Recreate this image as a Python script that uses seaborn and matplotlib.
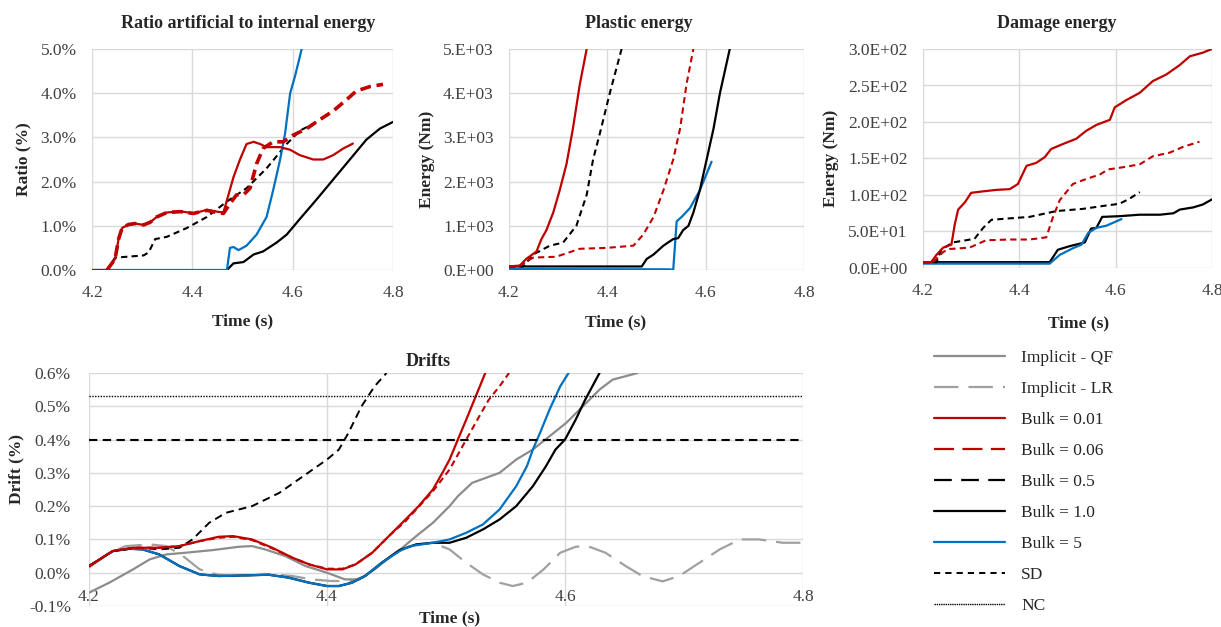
import matplotlib
matplotlib.use("Agg")
import matplotlib.pyplot as plt
import numpy as np
import pandas as pd
import seaborn as sns
from matplotlib.lines import Line2D
from matplotlib.ticker import FixedLocator, FixedFormatter

# ---------------- data ----------------
# Ratio artificial to internal energy (%)
ratio_t_b001 = [4.20, 4.23, 4.246, 4.253, 4.26, 4.273, 4.286, 4.303, 4.316, 4.329, 4.349, 4.376, 4.402,
                4.429, 4.449, 4.462, 4.472, 4.482, 4.495, 4.508, 4.522, 4.535, 4.548, 4.575, 4.595,
                4.614, 4.641, 4.661, 4.681, 4.701, 4.72]
ratio_b001 = [0.0, 0.0, 0.25, 0.7, 0.95, 1.03, 1.05, 1.02, 1.08, 1.2, 1.3, 1.33, 1.28,
              1.36, 1.32, 1.3, 1.7, 2.1, 2.5, 2.85, 2.9, 2.85, 2.78, 2.78, 2.72,
              2.6, 2.5, 2.5, 2.6, 2.75, 2.86]
ratio_t_b006 = [4.23, 4.246, 4.253, 4.26, 4.273, 4.286, 4.303, 4.316, 4.329, 4.349, 4.376, 4.402,
                4.429, 4.449, 4.462, 4.475, 4.488, 4.502, 4.515, 4.528, 4.541, 4.561, 4.581,
                4.601, 4.628, 4.654, 4.681, 4.707, 4.727, 4.754, 4.78]
ratio_b006 = [0.0, 0.25, 0.7, 0.95, 1.03, 1.05, 1.02, 1.08, 1.2, 1.3, 1.32, 1.28,
              1.35, 1.3, 1.28, 1.5, 1.7, 1.7, 1.85, 2.4, 2.75, 2.9, 2.9,
              3.05, 3.2, 3.4, 3.6, 3.85, 4.05, 4.15, 4.2]
ratio_t_b05 = [4.23, 4.246, 4.27, 4.303, 4.313, 4.326, 4.349, 4.389, 4.429, 4.469, 4.508, 4.548,
               4.588, 4.614, 4.648]
ratio_b05 = [0.0, 0.28, 0.3, 0.33, 0.4, 0.7, 0.75, 0.95, 1.2, 1.55, 1.85, 2.3,
             2.85, 3.15, 3.35]
ratio_t_b1 = [4.469, 4.482, 4.502, 4.522, 4.541, 4.568, 4.588, 4.614, 4.648, 4.681, 4.714, 4.747,
              4.774, 4.80]
ratio_b1 = [0.0, 0.15, 0.18, 0.35, 0.42, 0.62, 0.8, 1.15, 1.6, 2.05, 2.5, 2.95, 3.2, 3.35]
ratio_t_b5 = [4.20, 4.469, 4.475, 4.482, 4.492, 4.508, 4.528, 4.548, 4.561, 4.575, 4.585, 4.595,
              4.605, 4.618]
ratio_b5 = [0.0, 0.0, 0.5, 0.52, 0.45, 0.55, 0.8, 1.2, 1.8, 2.5, 3.1, 4.0, 4.4, 5.0]

# Plastic energy (Nm)
plastic_t_b001 = [4.20, 4.222, 4.235, 4.256, 4.266, 4.276, 4.29, 4.303, 4.317, 4.33, 4.344, 4.358]
plastic_b001 = [80, 100, 250, 420, 700, 900, 1300, 1800, 2400, 3200, 4200, 5000]
plastic_t_b05 = [4.20, 4.229, 4.249, 4.283, 4.31, 4.337, 4.358, 4.371, 4.385, 4.405, 4.429]
plastic_b05 = [80, 80, 350, 550, 620, 1000, 1700, 2500, 3100, 4000, 5000]
plastic_t_b006 = [4.20, 4.222, 4.249, 4.296, 4.344, 4.398, 4.453, 4.473, 4.494, 4.514, 4.534,
                  4.548, 4.561, 4.575]
plastic_b006 = [80, 100, 280, 300, 480, 500, 550, 800, 1200, 1800, 2500, 3200, 4200, 5000]
plastic_t_b1 = [4.20, 4.47, 4.48, 4.494, 4.514, 4.534, 4.544, 4.554, 4.565, 4.575, 4.588, 4.602,
                4.616, 4.629, 4.649]
plastic_b1 = [80, 80, 250, 350, 550, 700, 720, 900, 1000, 1300, 1800, 2500, 3200, 4000, 5000]
plastic_t_b5 = [4.20, 4.527, 4.534, 4.541, 4.551, 4.568, 4.588, 4.612]
plastic_b5 = [20, 15, 0, 1100, 1200, 1400, 1800, 2450]

# Damage energy (Nm)
damage_t_b001 = [4.20, 4.217, 4.228, 4.242, 4.259, 4.266, 4.273, 4.287, 4.30, 4.325, 4.352, 4.38,
                 4.397, 4.415, 4.435, 4.453, 4.466, 4.491, 4.518, 4.539, 4.56, 4.588, 4.598,
                 4.622, 4.65, 4.677, 4.705, 4.733, 4.754, 4.781, 4.80]
damage_b001 = [8, 8, 18, 28, 32, 60, 80, 90, 103, 105, 107, 108,
               115, 140, 144, 152, 163, 170, 177, 188, 196, 203, 220,
               230, 240, 256, 265, 278, 290, 295, 300]
damage_t_b006 = [4.20, 4.221, 4.242, 4.255, 4.297, 4.331, 4.38, 4.421, 4.456, 4.47, 4.484, 4.511,
                 4.539, 4.567, 4.584, 4.615, 4.65, 4.677, 4.712, 4.74, 4.774]
damage_b006 = [8, 8, 22, 26, 28, 38, 39, 39, 42, 70, 93, 115,
               122, 128, 135, 138, 142, 153, 158, 166, 173]
damage_t_b05 = [4.20, 4.228, 4.238, 4.262, 4.307, 4.325, 4.342, 4.38, 4.421, 4.477, 4.532, 4.574,
                4.608, 4.629, 4.65]
damage_b05 = [8, 8, 25, 35, 40, 55, 66, 68, 70, 78, 81, 85, 88, 95, 104]
damage_t_b1 = [4.20, 4.463, 4.48, 4.505, 4.536, 4.549, 4.56, 4.572, 4.608, 4.65, 4.692, 4.72,
               4.733, 4.761, 4.781, 4.80]
damage_b1 = [8, 8, 25, 30, 35, 54, 55, 70, 71, 73, 73, 75, 80, 83, 87, 94]
damage_t_b5 = [4.20, 4.463, 4.484, 4.511, 4.529, 4.543, 4.56, 4.581, 4.612]
damage_b5 = [6, 6, 18, 27, 32, 48, 55, 58, 67]

# Drifts (%)
drift_t_qf = [4.20, 4.217, 4.237, 4.251, 4.265, 4.281, 4.304, 4.326, 4.337, 4.348, 4.365, 4.382,
              4.40, 4.415, 4.427, 4.44, 4.454, 4.461, 4.475, 4.489, 4.503, 4.51, 4.522, 4.545,
              4.559, 4.573, 4.587, 4.601, 4.615, 4.629, 4.64, 4.661]
drift_qf = [-0.06, -0.03, 0.01, 0.04, 0.055, 0.06, 0.068, 0.078, 0.08, 0.07, 0.05, 0.02,
            0.0, -0.02, -0.02, 0.01, 0.05, 0.068, 0.11, 0.15, 0.2, 0.23, 0.27, 0.30,
            0.34, 0.37, 0.41, 0.45, 0.50, 0.55, 0.58, 0.60]
drift_t_lr = [4.20, 4.217, 4.231, 4.251, 4.265, 4.279, 4.293, 4.307, 4.32, 4.337, 4.354, 4.371,
              4.387, 4.404, 4.421, 4.432, 4.446, 4.461, 4.475, 4.489, 4.503, 4.517, 4.531,
              4.545, 4.556, 4.568, 4.582, 4.596, 4.609, 4.619, 4.634, 4.651, 4.665, 4.682,
              4.696, 4.713, 4.73, 4.747, 4.763, 4.783, 4.80]
drift_lr = [0.015, 0.06, 0.08, 0.085, 0.08, 0.05, 0.01, -0.005, -0.01, -0.007, -0.005, -0.01,
            -0.02, -0.025, -0.025, -0.01, 0.03, 0.068, 0.085, 0.09, 0.07, 0.03, -0.005,
            -0.03, -0.04, -0.03, 0.01, 0.06, 0.078, 0.08, 0.06, 0.02, -0.01, -0.026,
            -0.01, 0.03, 0.07, 0.10, 0.10, 0.09, 0.09]
drift_t_b001 = [4.20, 4.22, 4.237, 4.259, 4.276, 4.293, 4.309, 4.321, 4.337, 4.354, 4.371, 4.385,
                4.40, 4.413, 4.424, 4.438, 4.452, 4.466, 4.477, 4.489, 4.497, 4.503, 4.51,
                4.517, 4.525, 4.533]
drift_b001 = [0.02, 0.065, 0.075, 0.075, 0.08, 0.095, 0.108, 0.11, 0.10, 0.075, 0.045, 0.025,
              0.01, 0.01, 0.025, 0.06, 0.11, 0.16, 0.20, 0.25, 0.30, 0.34, 0.40,
              0.46, 0.53, 0.60]
drift_t_b006 = [4.20, 4.22, 4.237, 4.259, 4.276, 4.293, 4.309, 4.321, 4.337, 4.354, 4.371, 4.385,
                4.40, 4.413, 4.424, 4.438, 4.452, 4.466, 4.475, 4.489, 4.503, 4.517, 4.528,
                4.536, 4.545, 4.553]
drift_b006 = [0.02, 0.065, 0.075, 0.075, 0.08, 0.095, 0.105, 0.108, 0.098, 0.073, 0.045, 0.025,
              0.012, 0.012, 0.025, 0.06, 0.11, 0.155, 0.19, 0.245, 0.31, 0.40, 0.47,
              0.52, 0.56, 0.60]
drift_t_b05 = [4.20, 4.22, 4.242, 4.259, 4.276, 4.287, 4.301, 4.315, 4.337, 4.36, 4.376, 4.40,
               4.41, 4.418, 4.429, 4.44, 4.45]
drift_b05 = [0.02, 0.065, 0.075, 0.07, 0.075, 0.10, 0.15, 0.18, 0.20, 0.24, 0.28, 0.34,
             0.37, 0.42, 0.50, 0.56, 0.60]
drift_t_b1 = [4.20, 4.209, 4.22, 4.234, 4.245, 4.259, 4.276, 4.293, 4.309, 4.332, 4.351, 4.368,
              4.385, 4.40, 4.41, 4.421, 4.432, 4.446, 4.461, 4.475, 4.489, 4.503, 4.517,
              4.531, 4.545, 4.559, 4.573, 4.584, 4.592, 4.60, 4.609, 4.617, 4.629]
drift_b1 = [0.02, 0.04, 0.065, 0.072, 0.07, 0.055, 0.02, -0.005, -0.01, -0.008, -0.006, -0.015,
            -0.03, -0.04, -0.04, -0.03, -0.01, 0.03, 0.068, 0.085, 0.09, 0.09, 0.105,
            0.13, 0.16, 0.20, 0.26, 0.32, 0.37, 0.40, 0.46, 0.52, 0.60]
drift_t_b5 = [4.20, 4.209, 4.22, 4.234, 4.245, 4.259, 4.276, 4.293, 4.309, 4.332, 4.351, 4.368,
              4.385, 4.40, 4.41, 4.421, 4.432, 4.446, 4.461, 4.47, 4.489, 4.503, 4.517,
              4.531, 4.545, 4.559, 4.568, 4.573, 4.579, 4.587, 4.596, 4.603]
drift_b5 = [0.02, 0.04, 0.065, 0.072, 0.07, 0.055, 0.02, -0.005, -0.01, -0.008, -0.006, -0.015,
            -0.03, -0.04, -0.04, -0.03, -0.01, 0.03, 0.065, 0.08, 0.09, 0.10, 0.12,
            0.145, 0.19, 0.26, 0.32, 0.37, 0.42, 0.49, 0.56, 0.60]
drift_sd_limit = 0.40
drift_nc_limit = 0.53

time_ticks = [4.2, 4.4, 4.6, 4.8]
ratio_ticks = [0, 1, 2, 3, 4, 5]
plastic_ticks = [0, 1000, 2000, 3000, 4000, 5000]
plastic_ticklabels = ["0.E+00", "1.E+03", "2.E+03", "3.E+03", "4.E+03", "5.E+03"]
damage_ticks = [0, 50, 100, 150, 200, 250, 300]
damage_ticklabels = ["0.0E+00", "5.0E+01", "1.0E+02", "1.5E+02", "2.0E+02", "2.5E+02", "3.0E+02"]
drift_ticks = [-0.1, 0.0, 0.1, 0.2, 0.3, 0.4, 0.5, 0.6]

legend_labels = ["Implicit - QF", "Implicit - LR", "Bulk = 0.01", "Bulk = 0.06",
                 "Bulk = 0.5", "Bulk = 1.0", "Bulk = 5", "SD", "NC"]

# ---------------- styles ----------------
RED = "#C00000"
BLUE = "#0070C0"
GRAY = "#8C8C8C"
GRAY_LR = "#A0A0A0"
BLACK = "#000000"
GRID = "#D9D9D9"

sns.set_theme(style="white")
plt.rcParams["font.family"] = ["Liberation Serif", "DejaVu Serif"]
plt.rcParams["font.size"] = 12

W, H = 1221, 627
fig = plt.figure(figsize=(W / 100, H / 100), dpi=100)


def px_axes(left, top, right, bottom):
    return fig.add_axes([left / W, 1 - bottom / H, (right - left) / W, (bottom - top) / H])


def line(ax, t, v, color, ls="-", lw=1.6):
    sns.lineplot(x=t, y=v, ax=ax, color=color, linestyle=ls, linewidth=lw,
                 sort=False, estimator=None, legend=False)


def style_axes(ax, ylim, yticks, ylabels, xpad=11):
    ax.set_xlim(4.2, 4.8)
    ax.set_ylim(*ylim)
    ax.xaxis.set_major_locator(FixedLocator(time_ticks))
    ax.set_xticklabels([f"{t:.1f}" for t in time_ticks])
    ax.yaxis.set_major_locator(FixedLocator(yticks))
    ax.yaxis.set_major_formatter(FixedFormatter(ylabels))
    ax.grid(True, color=GRID, linewidth=1.0)
    ax.set_axisbelow(True)
    for s in ax.spines.values():
        s.set_visible(False)
    ax.tick_params(axis="both", length=0, labelsize=12.5, colors="#404040")
    ax.tick_params(axis="y", pad=11)
    ax.tick_params(axis="x", pad=xpad)
    ax.set_xlabel("Time (s)", fontsize=12.5, fontweight="bold")


DASH_B006_THICK = (0, (3, 1.6))
DASH_B006 = (0, (3, 2))
DASH_B05 = (0, (3, 2))
DASH_LR = (0, (11, 4.5))
DASH_SD = (0, (4, 2.6))

# ---------- Ratio panel ----------
ax1 = px_axes(92, 49, 393, 270)
line(ax1, ratio_t_b05, ratio_b05, BLACK, DASH_B05, 1.5)
line(ax1, ratio_t_b1, ratio_b1, BLACK)
line(ax1, ratio_t_b5, ratio_b5, BLUE)
line(ax1, ratio_t_b001, ratio_b001, RED)
line(ax1, ratio_t_b006, ratio_b006, RED, DASH_B006_THICK, 2.6)
style_axes(ax1, (0, 5), ratio_ticks, [f"{v:.1f}%" for v in ratio_ticks])
ax1.set_ylabel("Ratio (%)", fontsize=12.5, fontweight="bold")
ax1.yaxis.set_label_coords(-0.2, 0.5)
ax1.set_title("Ratio artificial to internal energy", fontsize=13, fontweight="bold", pad=15, x=0.52)
ax1.xaxis.set_label_coords(0.5, -0.195)

# ---------- Plastic panel ----------
ax2 = px_axes(509, 49, 804, 270)
line(ax2, plastic_t_b5, plastic_b5, BLUE)
line(ax2, plastic_t_b1, plastic_b1, BLACK)
line(ax2, plastic_t_b05, plastic_b05, BLACK, DASH_B05, 1.5)
line(ax2, plastic_t_b006, plastic_b006, RED, DASH_B006, 1.5)
line(ax2, plastic_t_b001, plastic_b001, RED)
style_axes(ax2, (0, 5000), plastic_ticks, plastic_ticklabels)
ax2.set_ylabel("Energy (Nm)", fontsize=12.5, fontweight="bold")
ax2.yaxis.set_label_coords(-0.25, 0.5)
ax2.set_title("Plastic energy", fontsize=13, fontweight="bold", pad=15, x=0.44)
ax2.xaxis.set_label_coords(0.36, -0.2)

# ---------- Damage panel ----------
ax3 = px_axes(923, 49, 1212, 268)
line(ax3, damage_t_b1, damage_b1, BLACK)
line(ax3, damage_t_b5, damage_b5, BLUE)
line(ax3, damage_t_b05, damage_b05, BLACK, DASH_B05, 1.5)
line(ax3, damage_t_b006, damage_b006, RED, DASH_B006, 1.5)
line(ax3, damage_t_b001, damage_b001, RED)
style_axes(ax3, (0, 300), damage_ticks, damage_ticklabels)
ax3.set_ylabel("Energy (Nm)", fontsize=12.5, fontweight="bold")
ax3.yaxis.set_label_coords(-0.29, 0.5)
ax3.set_title("Damage energy", fontsize=13, fontweight="bold", pad=15, x=0.464)
ax3.xaxis.set_label_coords(0.54, -0.215)

# ---------- Drifts panel ----------
ax4 = px_axes(89, 373, 803, 606)
line(ax4, drift_t_lr, drift_lr, GRAY_LR, DASH_LR, 1.6)
line(ax4, drift_t_qf, drift_qf, GRAY, "-", 1.6)
line(ax4, drift_t_b1, drift_b1, BLACK)
line(ax4, drift_t_b5, drift_b5, BLUE)
line(ax4, drift_t_b05, drift_b05, BLACK, DASH_SD, 1.4)
line(ax4, drift_t_b006, drift_b006, RED, DASH_B006, 1.5)
line(ax4, drift_t_b001, drift_b001, RED)
ax4.axhline(drift_sd_limit, color=BLACK, linestyle=(0, (4, 2.6)), linewidth=1.5)
ax4.axhline(drift_nc_limit, color=BLACK, linestyle=(0, (1, 1)), linewidth=1.0)
style_axes(ax4, (-0.1, 0.6), drift_ticks, [f"{v:.1f}%" for v in drift_ticks], xpad=-12)
ax4.tick_params(axis="y", pad=13)
ax4.set_ylabel("Drift (%)", fontsize=12.5, fontweight="bold")
ax4.yaxis.set_label_coords(-0.09, 0.59)
ax4.set_title("Drifts", fontsize=13, fontweight="bold", pad=5, x=0.475)
ax4.xaxis.set_label_coords(0.505, -0.02)
ax4.xaxis.label.set_va("top")

# ---------- Legend ----------
handles = [
    Line2D([], [], color=GRAY, lw=1.6),
    Line2D([], [], color=GRAY_LR, lw=1.6, linestyle=DASH_LR),
    Line2D([], [], color=RED, lw=1.6),
    Line2D([], [], color=RED, lw=1.6, linestyle=(0, (9, 3.8))),
    Line2D([], [], color=BLACK, lw=1.6, linestyle=(0, (8, 4.2))),
    Line2D([], [], color=BLACK, lw=1.6),
    Line2D([], [], color=BLUE, lw=1.6),
    Line2D([], [], color=BLACK, lw=1.4, linestyle=(0, (3.2, 2.6))),
    Line2D([], [], color=BLACK, lw=1.0, linestyle=(0, (1, 0.6))),
]
fig.legend(handles, legend_labels, loc="upper left", bbox_to_anchor=(925 / W, 1 - 341 / H),
           frameon=False, fontsize=12.5, handlelength=4.1, handletextpad=0.95,
           labelspacing=0.86, borderpad=0)

fig.savefig("out.png", dpi=100)
